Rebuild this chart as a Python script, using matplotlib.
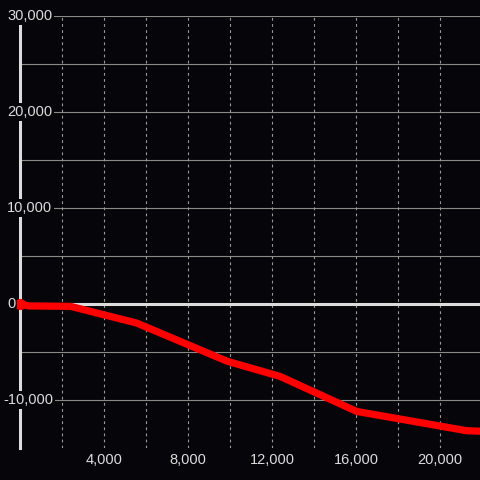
import matplotlib
matplotlib.use('Agg')
import matplotlib.pyplot as plt
from matplotlib.transforms import blended_transform_factory

# series values
xs = [0, 400, 2400, 5540, 9850, 12370, 16020, 21260, 21900]
ys = [0, -200, -250, -1980, -5960, -7540, -11190, -13200, -13250]

y_ticks = [30000, 20000, 10000, 0, -10000]
y_minor = [25000, 15000, 5000, -5000]
x_ticks = [4000, 8000, 12000, 16000, 20000]
x_grid = [2000, 4000, 6000, 8000, 10000, 12000, 14000, 16000, 18000, 20000]

bg = '#060509'
fg = '#dcdcdc'
grid_c = '#8a8a86'

fig = plt.figure(figsize=(4.8, 4.8), dpi=100, facecolor=bg)
ax = fig.add_axes([20.3 / 480, 32 / 480, 1 - 20.3 / 480, 432 / 480])
ax.set_facecolor(bg)
ax.set_xlim(0, 21890)
ax.set_ylim(-15000, 30000)

for v in y_ticks:
    if v != 0:
        ax.axhline(v, color=grid_c, lw=0.8, zorder=1)
for v in y_minor:
    ax.axhline(v, color=grid_c, lw=0.8, zorder=1)
for v in x_grid:
    ax.axvline(v, color='#9a9a9a', lw=0.8, ls=(0, (2.5, 3)), zorder=1)
ax.axhline(0, color=fg, lw=2.2, zorder=2)

ax.plot(xs, ys, color='#ff0000', lw=5.2, solid_capstyle='butt', zorder=4)
# start marker sits on the axis line, so let it overflow the axes
ax.plot(xs[:1], ys[:1], 'o', color='#ff0000', ms=7, zorder=5, clip_on=False)

for s in ['top', 'right', 'bottom']:
    ax.spines[s].set_visible(False)
ax.spines['left'].set_color(fg)
ax.spines['left'].set_linewidth(2.2)
ax.spines['left'].set_zorder(3)

ax.set_xticks([])
ax.set_yticks([])

trans = blended_transform_factory(fig.transFigure, ax.transData)
for v in y_ticks:
    x0 = 7 if v >= 0 else 3
    ax.text(x0 / 480, v, f'{v:,}', transform=trans,
            ha='left', va='center', color=fg, fontsize=10.5,
            family='Liberation Sans', zorder=6,
            bbox=dict(facecolor=bg, edgecolor='none', pad=1.5))

transx = blended_transform_factory(ax.transData, fig.transFigure)
for v in x_ticks:
    ax.text(v, 1 - 460 / 480, f'{v:,}', transform=transx, ha='center',
            va='center', color=fg, fontsize=10.5, family='Liberation Sans')

fig.savefig('out.png', dpi=100, facecolor=bg)
